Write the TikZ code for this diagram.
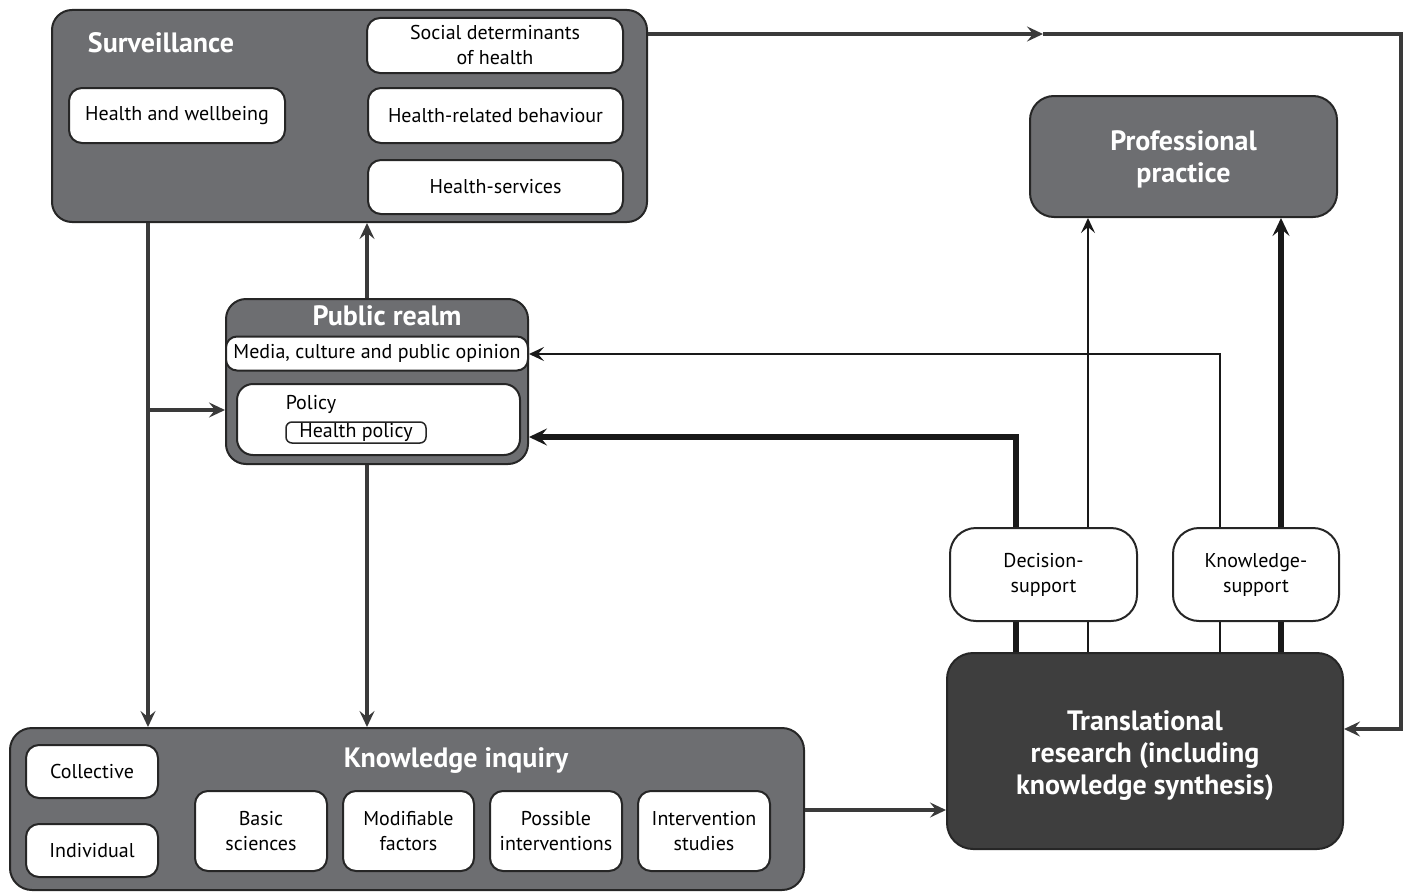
\documentclass[tikz,border=0pt]{standalone}
\usepackage{fontspec}
\setmainfont{PT Sans}
\usetikzlibrary{arrows.meta,calc}
\definecolor{boxgray}{HTML}{6D6E71}
\definecolor{darkbox}{HTML}{3E3E3E}
\definecolor{linec}{HTML}{3A3A3A}
\tikzset{
  gbox/.style={draw=black!85, line width=2pt, fill=boxgray, rounded corners=20pt, inner sep=0pt},
  wbox/.style={draw=black!85, line width=2pt, fill=white, rounded corners=13pt, inner sep=0pt, align=center, font=\fontsize{20}{25}\selectfont},
  ttl/.style={text=white, font=\bfseries\fontsize{28}{32}\selectfont, align=center, inner sep=0pt},
  arr/.style={draw=linec, line width=3.2pt, -{Stealth[length=16pt,width=15pt,inset=6pt]}},
  thinarr/.style={draw=black!90, line width=2pt, -{Stealth[length=15pt,width=14pt,inset=6pt]}},
  thickarr/.style={draw=black!90, line width=5.5pt, -{Stealth[length=18pt,width=17pt,inset=7pt]}},
  thinl/.style={draw=black!90, line width=2pt},
  thickl/.style={draw=black!90, line width=5.5pt},
}
\begin{document}
\begin{tikzpicture}[x=1pt,y=-1pt]
\useasboundingbox (0,0) rectangle (1407,891);
% Surveillance
\node[gbox, minimum width=595pt, minimum height=212pt] (surv) at (349.5,116) {};
\node[ttl, anchor=center] (survt) at (161,43) {Surveillance};
\node[wbox, minimum width=256pt, minimum height=55pt] (sdh) at (495,45.5) {Social determinants\\of health};
\node[wbox, minimum width=216pt, minimum height=55pt] (hw) at (177,115.5) {Health and wellbeing};
\node[wbox, minimum width=255pt, minimum height=55pt] (hrb) at (495.5,115.5) {Health-related behaviour};
\node[wbox, minimum width=255pt, minimum height=54pt] (hs) at (495.5,187) {Health-services};
% Professional practice
\node[gbox, minimum width=307pt, minimum height=121pt, rounded corners=24pt] (pp) at (1183.5,156.5) {};
\node[ttl] (ppt) at (1183.5,159) {Professional\\practice};
% Public realm
\node[gbox, minimum width=302pt, minimum height=165pt, rounded corners=20pt] (pr) at (377,381.5) {};
\node[ttl] (prt) at (387,316) {Public realm};
\node[wbox, minimum width=302pt, minimum height=34pt, rounded corners=11pt] (media) at (377,353.5) {Media, culture and public opinion};
\node[wbox, minimum width=283pt, minimum height=71pt, rounded corners=16pt] (pol) at (378.5,419.5) {};
\node[font=\fontsize{20}{25}\selectfont, inner sep=0pt] (polt) at (311,404) {Policy};
\node[wbox, minimum width=140pt, minimum height=21pt, rounded corners=6pt, line width=1.5pt] (hp) at (356,432.5) {Health policy};
% Knowledge inquiry
\node[gbox, minimum width=794pt, minimum height=162pt, rounded corners=22pt] (ki) at (407,809) {};
\node[ttl] (kit) at (456,761) {Knowledge inquiry};
\node[wbox, minimum width=132pt, minimum height=53pt] (coll) at (92,771.5) {Collective};
\node[wbox, minimum width=132pt, minimum height=53pt] (indiv) at (92,850.5) {Individual};
\node[wbox, minimum width=132pt, minimum height=80pt] (bs) at (261,831) {Basic\\sciences};
\node[wbox, minimum width=131pt, minimum height=80pt] (mf) at (408.5,831) {Modifiable\\factors};
\node[wbox, minimum width=132pt, minimum height=80pt] (pi) at (556,831) {Possible\\interventions};
\node[wbox, minimum width=132pt, minimum height=80pt] (is) at (704,831) {Intervention\\studies};
% Translational research
\node[draw=black!85, line width=2pt, fill=darkbox, rounded corners=26pt, minimum width=396pt, minimum height=196pt, inner sep=0pt] (tr) at (1145,751) {};
\node[ttl] (trt) at (1145,756) {Translational\\research (including\\knowledge synthesis)};
% Support boxes
\node[wbox, minimum width=187pt, minimum height=93pt, rounded corners=26pt] (ds) at (1043.5,574.5) {Decision-\\support};
\node[wbox, minimum width=166pt, minimum height=93pt, rounded corners=26pt] (ks) at (1256,574.5) {Knowledge-\\support};
% helper coordinates
\coordinate (x148) at (148,0);
\coordinate (x367) at (367,0);
\coordinate (x1016) at (1016,0);
\coordinate (x1088) at (1088,0);
\coordinate (x1220) at (1220,0);
\coordinate (x1281) at (1281,0);
\coordinate (mid) at (1043,34);
\coordinate (corner1) at (1401,34);
\coordinate (corner2) at (1401,729);
\coordinate (branch) at (148,410);
\coordinate (bend1) at (1016,437);
\coordinate (bend2) at (1220,354);
\coordinate (y810) at (0,810);
% connectors
\draw[arr] (surv.east |- mid) -- (mid);
\draw[arr] (mid) -- (corner1) -- (corner2) -- (tr.east |- corner2);
\draw[arr] (surv.south -| x148) -- (ki.north -| x148);
\draw[arr] (branch) -- (pr.west |- branch);
\draw[arr] (pr.north -| x367) -- (surv.south -| x367);
\draw[arr] (pr.south -| x367) -- (ki.north -| x367);
\draw[arr] (ki.east |- y810) -- (tr.west |- y810);
% translational to supports
\draw[thickl] (tr.north -| x1016) -- (ds.south -| x1016);
\draw[thinl] (tr.north -| x1088) -- (ds.south -| x1088);
\draw[thinl] (tr.north -| x1220) -- (ks.south -| x1220);
\draw[thickl] (tr.north -| x1281) -- (ks.south -| x1281);
% supports onward
\draw[thickarr] (ds.north -| x1016) -- (bend1) -- (pr.east |- bend1);
\draw[thinarr] (ds.north -| x1088) -- (pp.south -| x1088);
\draw[thinarr] (ks.north -| x1220) -- (bend2) -- (pr.east |- bend2);
\draw[thickarr] (ks.north -| x1281) -- (pp.south -| x1281);
\end{tikzpicture}
\end{document}
